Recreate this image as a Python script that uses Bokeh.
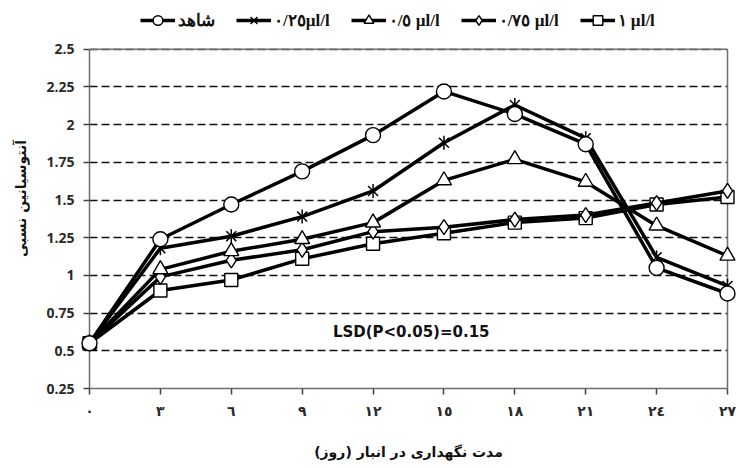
from bokeh.plotting import figure
from bokeh.models import Range1d, FixedTicker, Legend, LegendItem, Label, LinearAxis, Span
from bokeh.embed import file_html
from bokeh.resources import INLINE
import math

days = [0, 3, 6, 9, 12, 15, 18, 21, 24, 27]
day_labels = ["٠", "٣", "٦", "٩", "١٢", "١٥", "١٨", "٢١", "٢٤", "٢٧"]
y_ticks = [0.25, 0.5, 0.75, 1, 1.25, 1.5, 1.75, 2, 2.25, 2.5]
y_labels = ["0.25", "0.5", "0.75", "1", "1.25", "1.5", "1.75", "2", "2.25", "2.5"]

control = [0.55, 1.24, 1.47, 1.69, 1.93, 2.22, 2.07, 1.87, 1.05, 0.88]
c025 = [0.55, 1.18, 1.26, 1.39, 1.56, 1.88, 2.13, 1.91, 1.12, 0.93]
c05 = [0.55, 1.04, 1.16, 1.24, 1.35, 1.63, 1.77, 1.62, 1.33, 1.13]
c075 = [0.55, 0.99, 1.10, 1.17, 1.29, 1.32, 1.37, 1.40, 1.48, 1.56]
c1 = [0.55, 0.90, 0.97, 1.11, 1.21, 1.28, 1.35, 1.38, 1.47, 1.52]

names = ["شاهد", "٠/٢٥µl/l", "٠/٥ µl/l", "٠/٧٥ µl/l", "١ µl/l"]
lsd_text = "LSD(P<0.05)=0.15"
x_title = "مدت نگهداری در انبار (روز)"
y_title = "آنتوسیانین نسبی"

GREY = "#6e6e6e"

p = figure(width=736, height=468, output_backend="svg", toolbar_location=None,
           x_range=Range1d(0, 27), y_range=Range1d(0.25, 2.77),
           min_border_left=89, min_border_right=9, min_border_top=8, min_border_bottom=80)
p.background_fill_color = "white"
p.border_fill_color = "white"
p.outline_line_color = None

p.xaxis.ticker = FixedTicker(ticks=days)
p.xaxis.major_label_overrides = {d: l for d, l in zip(days, day_labels)}
p.yaxis.ticker = FixedTicker(ticks=y_ticks)
p.yaxis.major_label_overrides = {t: l for t, l in zip(y_ticks, y_labels)}
p.yaxis.bounds = (0.25, 2.5)
for ax in (p.xaxis, p.yaxis):
    ax.axis_line_color = GREY
    ax.axis_line_width = 1.5
    ax.major_tick_line_color = "#444444"
    ax.major_tick_line_width = 1.5
    ax.minor_tick_line_color = None
    ax.major_tick_in = 0
    ax.major_tick_out = 6
    ax.major_label_text_color = "#2a2a2a"
    ax.major_label_text_font_style = "bold"
    ax.axis_label_text_font_style = "bold"
    ax.axis_label_text_color = "#111111"
p.yaxis.major_label_text_font = "Open Sans"
p.yaxis.major_label_text_font_size = "14px"
p.yaxis.major_label_standoff = 9
p.xaxis.major_label_text_font = "DejaVu Sans"
p.xaxis.major_label_text_font_size = "14px"
p.xaxis.major_label_standoff = 8
p.xaxis.axis_label = x_title
p.yaxis.axis_label = y_title
p.xaxis.axis_label_text_font = "DejaVu Sans"
p.yaxis.axis_label_text_font = "DejaVu Sans"
p.xaxis.axis_label_text_font_size = "14px"
p.yaxis.axis_label_text_font_size = "14px"
p.xaxis.axis_label_standoff = 22
p.yaxis.axis_label_standoff = 14

right = LinearAxis(ticker=FixedTicker(ticks=[]), bounds=(0.25, 2.5),
                   axis_line_color=GREY, axis_line_width=1.5,
                   major_tick_line_color=None, minor_tick_line_color=None)
p.add_layout(right, "right")

p.add_layout(Span(location=2.5, dimension="width", line_color=GREY, line_width=1.5,
                  level="underlay"))

p.xgrid.grid_line_color = None
p.ygrid.ticker = FixedTicker(ticks=y_ticks)
p.ygrid.grid_line_color = "#111111"
p.ygrid.grid_line_width = 1.5
p.ygrid.grid_line_dash = "8 4"

lw = 3.5
items = []


def add_series(vals, marker, size, label):
    r_line = p.line(days, vals, line_color="black", line_width=lw, level="overlay")
    rs = [r_line]
    if marker == "star":
        rs.append(p.scatter(days, vals, marker="x", size=size, line_color="black",
                            line_width=1.5, level="overlay"))
        rs.append(p.scatter(days, vals, marker="dash", angle=math.pi / 2, size=size,
                            line_color="black", line_width=1.5, level="overlay"))
    else:
        rs.append(p.scatter(days, vals, marker=marker, size=size, fill_color="white",
                            line_color="black", line_width=1.4, level="overlay"))
    items.append(LegendItem(label=label, renderers=rs))


add_series(c1, "square", 13, names[4])
add_series(c075, "diamond", 15, names[3])
add_series(c05, "triangle", 15, names[2])
add_series(c025, "star", 14, names[1])
add_series(control, "circle", 15, names[0])

items = items[::-1]
legend = Legend(items=items, orientation="horizontal", location=(51, 356),
                padding=0, margin=0, spacing=21, glyph_width=35, glyph_height=24,
                label_standoff=3, border_line_color=None, background_fill_alpha=0,
                label_text_font="Liberation Serif", label_text_font_style="bold",
                label_text_font_size="17px", label_text_color="#111111")
p.add_layout(legend, "center")

p.add_layout(Label(x=10.3, y=0.625, text=lsd_text, text_font="DejaVu Sans", text_font_style="bold",
                   text_font_size="15px", text_baseline="middle", text_color="#111111"))

open("out.html", "w").write(file_html(p, INLINE))
